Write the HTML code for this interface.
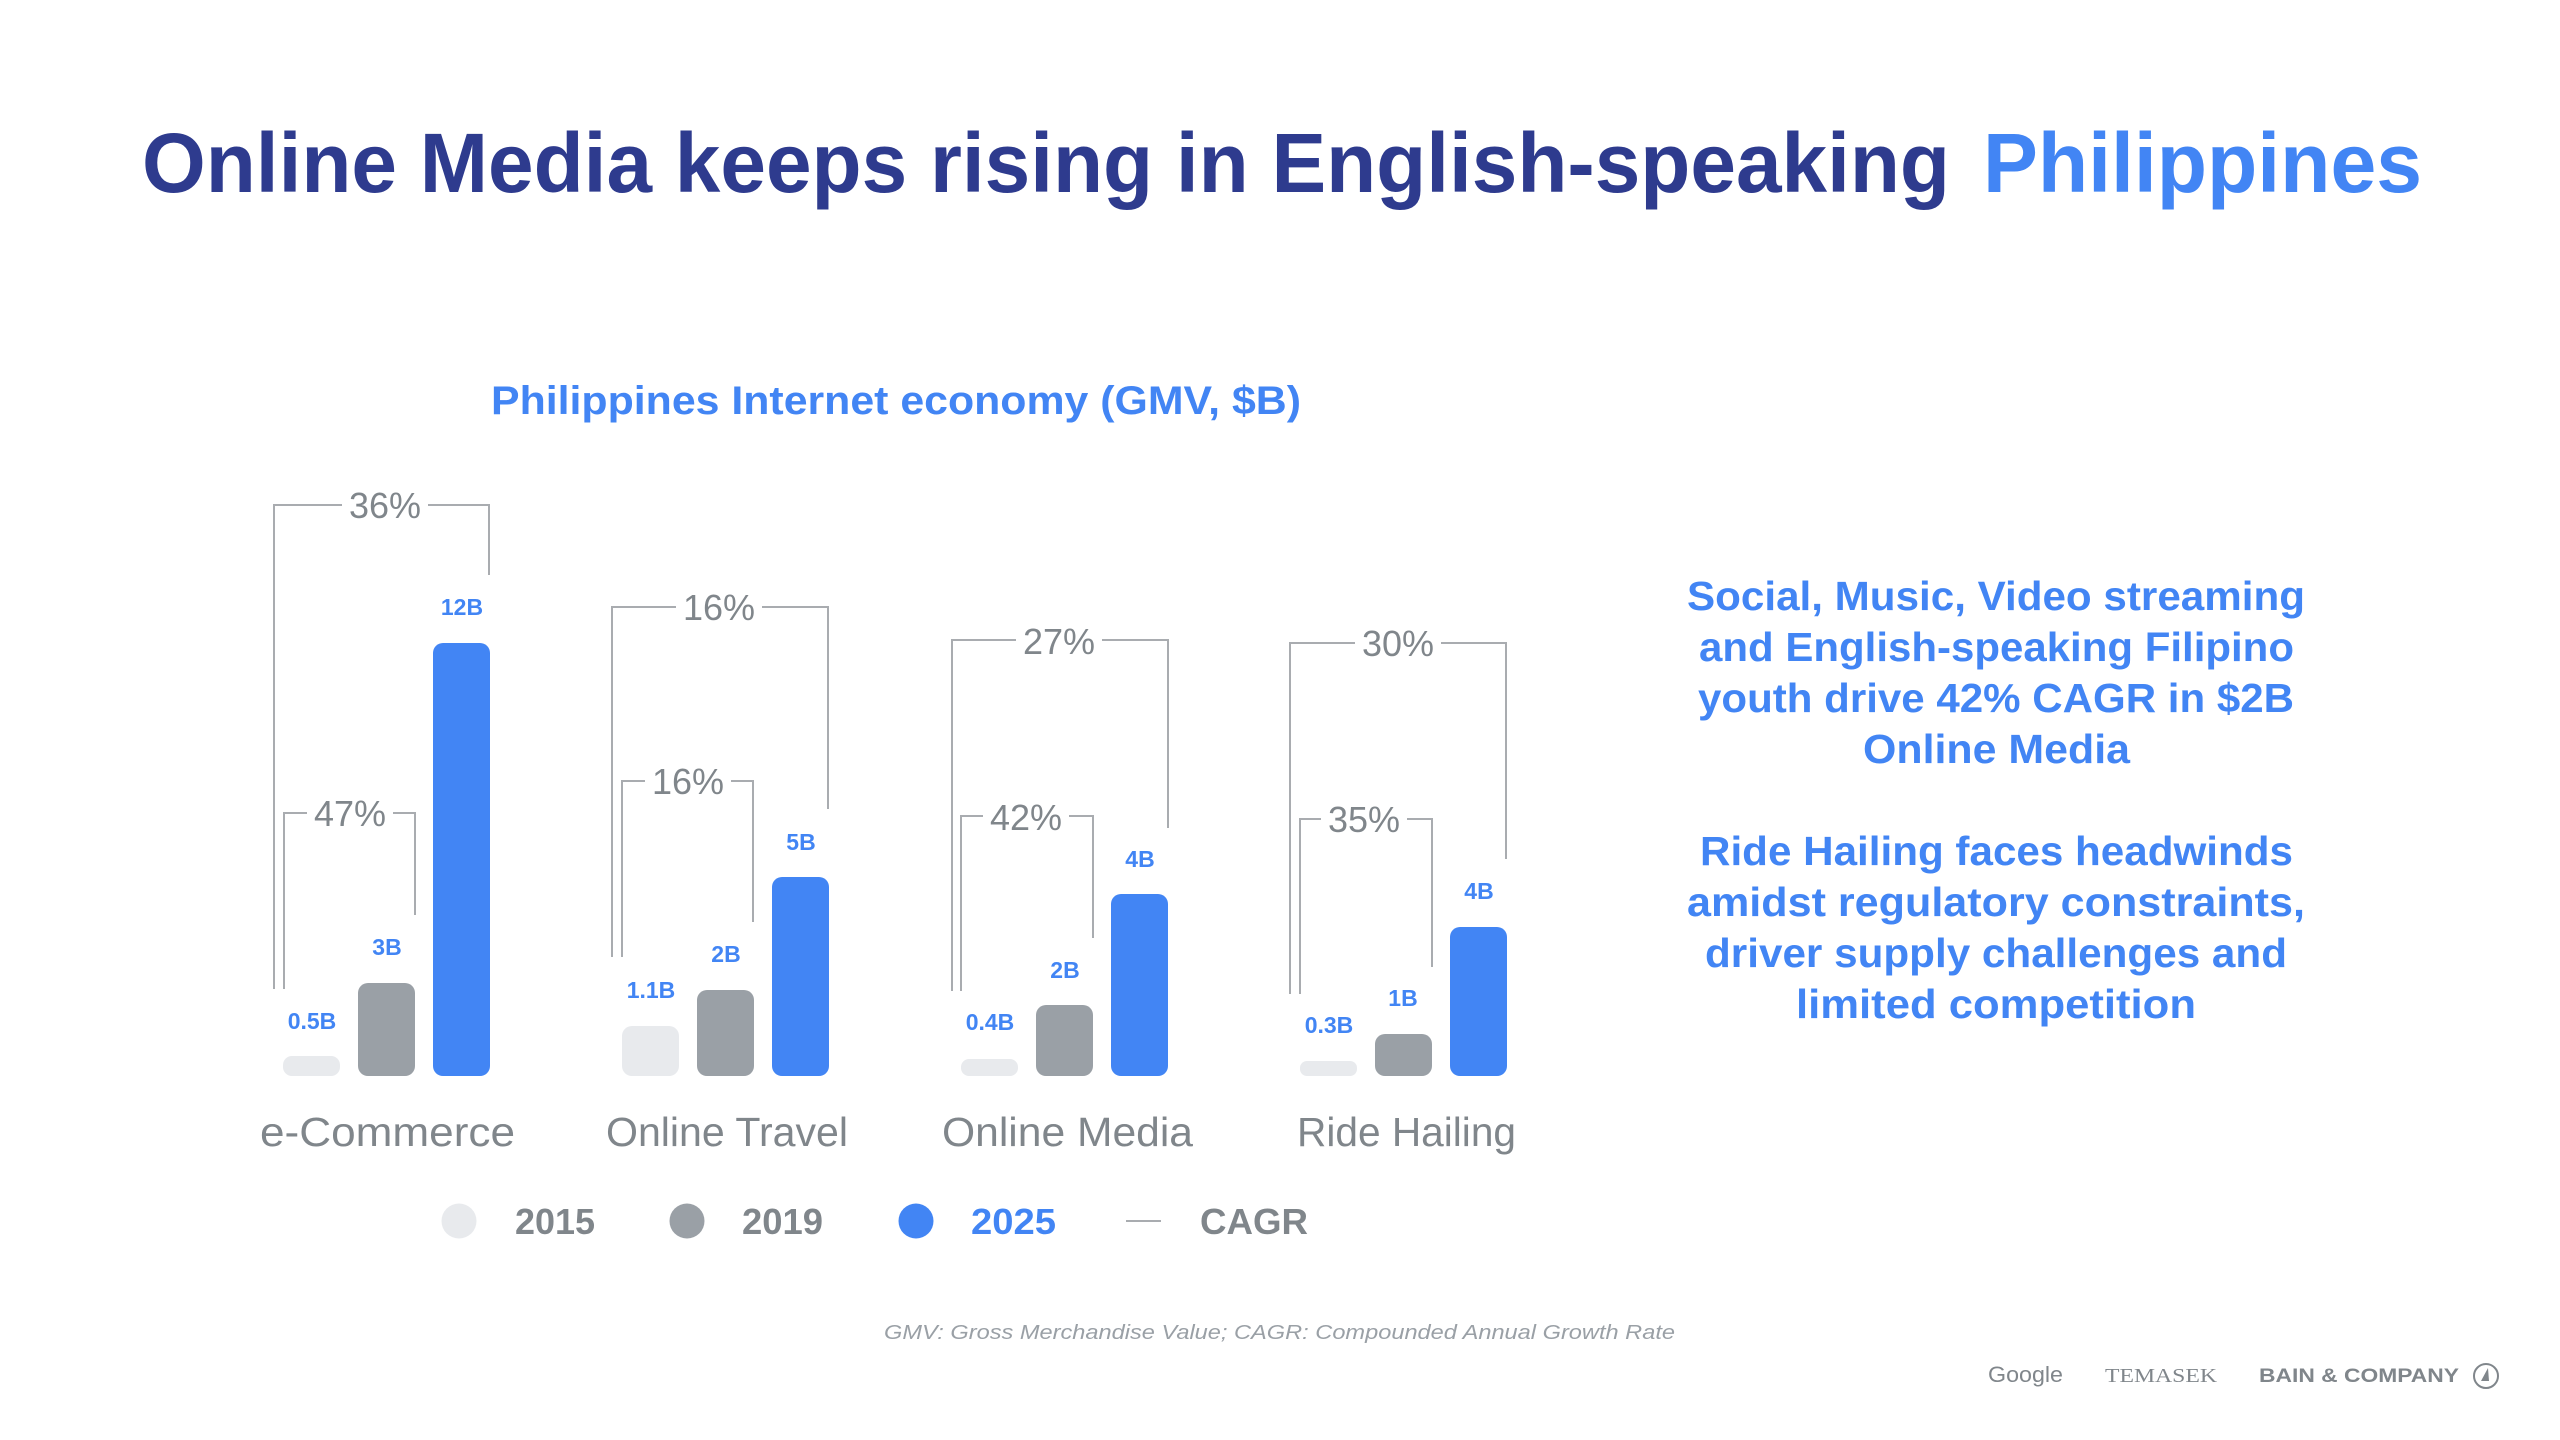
<!DOCTYPE html>
<html>
<head>
<meta charset="utf-8">
<style>
  html, body { margin:0; padding:0; background:#ffffff; }
  body { width:2560px; height:1440px; overflow:hidden; }
  svg { display:block; }
  text { font-family: "Liberation Sans", "DejaVu Sans", sans-serif; }
</style>
</head>
<body>
<svg width="2560" height="1440" viewBox="0 0 2560 1440" xmlns="http://www.w3.org/2000/svg">
  <rect width="2560" height="1440" fill="#ffffff"/>

  <!-- Title -->
  <text x="142" y="192" font-size="84" font-weight="bold" fill="#2E3B8E" textLength="1808" lengthAdjust="spacingAndGlyphs">Online Media keeps rising in English-speaking</text>
  <text x="1983" y="192" font-size="84" font-weight="bold" fill="#4285F4" textLength="439" lengthAdjust="spacingAndGlyphs">Philippines</text>

  <!-- Subtitle -->
  <text x="491" y="414" font-size="40" font-weight="bold" fill="#4285F4" textLength="810" lengthAdjust="spacingAndGlyphs">Philippines Internet economy (GMV, $B)</text>

  <!-- Brackets -->
  <g stroke="#A9ACB0" stroke-width="2" fill="none">
    <!-- e-Commerce outer -->
    <polyline points="274,989 274,505 489,505 489,575"/>
    <!-- e-Commerce inner -->
    <polyline points="284,989 284,813 415,813 415,915"/>
    <!-- Travel outer -->
    <polyline points="612,957 612,607 828,607 828,809"/>
    <!-- Travel inner -->
    <polyline points="622,957 622,781 753,781 753,922"/>
    <!-- Media outer -->
    <polyline points="952,991 952,640 1168,640 1168,828"/>
    <!-- Media inner -->
    <polyline points="961,991 961,816 1093,816 1093,938"/>
    <!-- Ride outer -->
    <polyline points="1290,994 1290,643 1506,643 1506,859"/>
    <!-- Ride inner -->
    <polyline points="1300,994 1300,819 1432,819 1432,967"/>
  </g>

  <!-- gaps behind percent labels -->
  <g fill="#ffffff">
    <rect x="342" y="491" width="86" height="30"/>
    <rect x="307" y="799" width="86" height="30"/>
    <rect x="676" y="593" width="86" height="30"/>
    <rect x="645" y="767" width="86" height="30"/>
    <rect x="1016" y="626" width="86" height="30"/>
    <rect x="983" y="802" width="86" height="30"/>
    <rect x="1355" y="629" width="86" height="30"/>
    <rect x="1321" y="805" width="86" height="30"/>
  </g>

  <!-- Percent labels -->
  <g font-size="36" fill="#80868B" text-anchor="middle">
    <text x="385" y="518">36%</text>
    <text x="350" y="826">47%</text>
    <text x="719" y="620">16%</text>
    <text x="688" y="794">16%</text>
    <text x="1059" y="654">27%</text>
    <text x="1026" y="830">42%</text>
    <text x="1398" y="656">30%</text>
    <text x="1364" y="832">35%</text>
  </g>

  <!-- Bars -->
  <g>
    <!-- e-Commerce -->
    <rect x="283" y="1056" width="57" height="20" rx="9" fill="#E8EAED"/>
    <rect x="358" y="983" width="57" height="93" rx="10" fill="#9AA0A6"/>
    <rect x="433" y="643" width="57" height="433" rx="10" fill="#4285F4"/>
    <!-- Online Travel -->
    <rect x="622" y="1026" width="57" height="50" rx="10" fill="#E8EAED"/>
    <rect x="697" y="990" width="57" height="86" rx="10" fill="#9AA0A6"/>
    <rect x="772" y="877" width="57" height="199" rx="10" fill="#4285F4"/>
    <!-- Online Media -->
    <rect x="961" y="1059" width="57" height="17" rx="8" fill="#E8EAED"/>
    <rect x="1036" y="1005" width="57" height="71" rx="10" fill="#9AA0A6"/>
    <rect x="1111" y="894" width="57" height="182" rx="10" fill="#4285F4"/>
    <!-- Ride Hailing -->
    <rect x="1300" y="1061" width="57" height="15" rx="7" fill="#E8EAED"/>
    <rect x="1375" y="1034" width="57" height="42" rx="10" fill="#9AA0A6"/>
    <rect x="1450" y="927" width="57" height="149" rx="10" fill="#4285F4"/>
  </g>

  <!-- Value labels -->
  <g font-size="23" font-weight="bold" fill="#4285F4" text-anchor="middle">
    <text x="312" y="1029">0.5B</text>
    <text x="387" y="955">3B</text>
    <text x="462" y="615">12B</text>
    <text x="651" y="998">1.1B</text>
    <text x="726" y="962">2B</text>
    <text x="801" y="850">5B</text>
    <text x="990" y="1030">0.4B</text>
    <text x="1065" y="978">2B</text>
    <text x="1140" y="867">4B</text>
    <text x="1329" y="1033">0.3B</text>
    <text x="1403" y="1006">1B</text>
    <text x="1479" y="899">4B</text>
  </g>

  <!-- Category labels -->
  <g font-size="41" fill="#80868B">
    <text x="260" y="1146" textLength="255" lengthAdjust="spacingAndGlyphs">e-Commerce</text>
    <text x="606" y="1146" textLength="242" lengthAdjust="spacingAndGlyphs">Online Travel</text>
    <text x="942" y="1146" textLength="251" lengthAdjust="spacingAndGlyphs">Online Media</text>
    <text x="1297" y="1146" textLength="219" lengthAdjust="spacingAndGlyphs">Ride Hailing</text>
  </g>

  <!-- Legend -->
  <circle cx="459" cy="1221" r="17.5" fill="#E8EAED"/>
  <text x="515" y="1234" font-size="36" font-weight="bold" fill="#80868B" textLength="80" lengthAdjust="spacingAndGlyphs">2015</text>
  <circle cx="687" cy="1221" r="17.5" fill="#9AA0A6"/>
  <text x="742" y="1234" font-size="36" font-weight="bold" fill="#80868B" textLength="81" lengthAdjust="spacingAndGlyphs">2019</text>
  <circle cx="916" cy="1221" r="17.5" fill="#4285F4"/>
  <text x="971" y="1234" font-size="36" font-weight="bold" fill="#4285F4" textLength="85" lengthAdjust="spacingAndGlyphs">2025</text>
  <line x1="1126" y1="1221" x2="1161" y2="1221" stroke="#A9ACB0" stroke-width="2"/>
  <text x="1200" y="1234" font-size="36" font-weight="bold" fill="#80868B" textLength="108" lengthAdjust="spacingAndGlyphs">CAGR</text>

  <!-- Right commentary -->
  <g font-size="41" font-weight="bold" fill="#4285F4">
    <text x="1687" y="610" textLength="618" lengthAdjust="spacingAndGlyphs">Social, Music, Video streaming</text>
    <text x="1699" y="661" textLength="595" lengthAdjust="spacingAndGlyphs">and English-speaking Filipino</text>
    <text x="1698" y="712" textLength="596" lengthAdjust="spacingAndGlyphs">youth drive 42% CAGR in $2B</text>
    <text x="1863" y="763" textLength="267" lengthAdjust="spacingAndGlyphs">Online Media</text>
    <text x="1700" y="865" textLength="593" lengthAdjust="spacingAndGlyphs">Ride Hailing faces headwinds</text>
    <text x="1687" y="916" textLength="618" lengthAdjust="spacingAndGlyphs">amidst regulatory constraints,</text>
    <text x="1705" y="967" textLength="582" lengthAdjust="spacingAndGlyphs">driver supply challenges and</text>
    <text x="1796" y="1018" textLength="400" lengthAdjust="spacingAndGlyphs">limited competition</text>
  </g>

  <!-- Footnote -->
  <text x="884" y="1339" font-size="20" font-style="italic" fill="#9AA0A6" textLength="791" lengthAdjust="spacingAndGlyphs">GMV: Gross Merchandise Value; CAGR: Compounded Annual Growth Rate</text>

  <!-- Logos -->
  <text x="1988" y="1382" font-size="22" fill="#80868B" textLength="75" lengthAdjust="spacingAndGlyphs">Google</text>
  <text x="2105" y="1382" font-size="20" fill="#80868B" style="font-family:'Liberation Serif', serif" textLength="112" lengthAdjust="spacingAndGlyphs">TEMASEK</text>
  <text x="2259" y="1382" font-size="19" font-weight="bold" fill="#80868B" textLength="200" lengthAdjust="spacingAndGlyphs">BAIN &amp; COMPANY</text>
  <circle cx="2486" cy="1376" r="12" fill="none" stroke="#80868B" stroke-width="2"/>
  <path d="M2488,1368 L2481,1381 L2489,1381 Z" fill="#80868B"/>
</svg>
</body>
</html>
